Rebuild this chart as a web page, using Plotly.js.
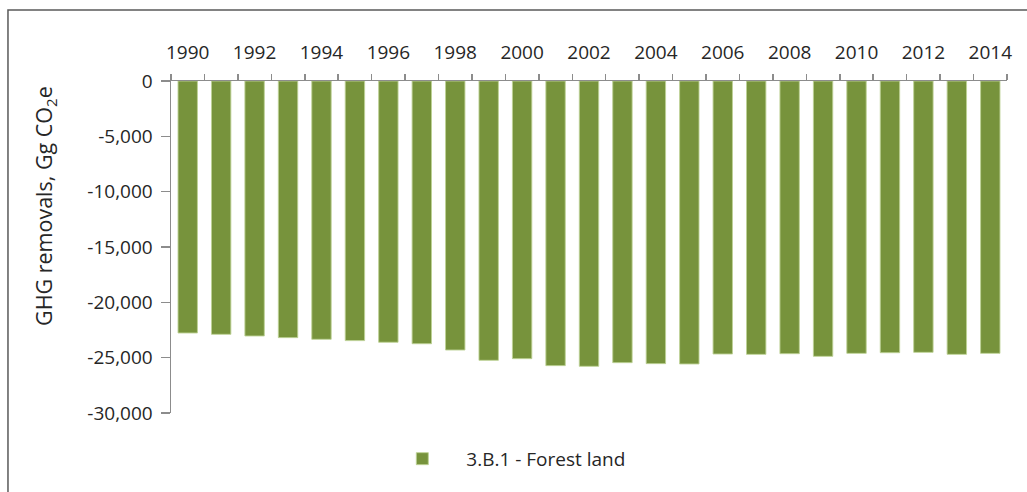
<!DOCTYPE html>
<html>
<head>
<meta charset="utf-8">
<script src="https://cdn.plot.ly/plotly-3.0.1.min.js"></script>
<style>html,body{margin:0;padding:0;background:#fff;}#chart{width:1027px;height:492px;}</style>
</head>
<body>
<div id="chart"></div>
<script>
const years = [1990,1991,1992,1993,1994,1995,1996,1997,1998,1999,2000,2001,2002,2003,2004,2005,2006,2007,2008,2009,2010,2011,2012,2013,2014];
const forestLand = [-22770,-22890,-23040,-23190,-23340,-23460,-23610,-23740,-24310,-25240,-25090,-25720,-25780,-25450,-25540,-25570,-24670,-24700,-24640,-24880,-24610,-24550,-24520,-24700,-24610];
const seriesName = '3.B.1 - Forest land';
const yTicks = [0,-5000,-10000,-15000,-20000,-25000,-30000];
const yTickText = ['0','-5,000','-10,000','-15,000','-20,000','-25,000','-30,000'];
const xTickYears = [1990,1992,1994,1996,1998,2000,2002,2004,2006,2008,2010,2012,2014];

const fontFam = '"Open Sans", "Noto Sans", sans-serif';
const txtCol = '#262626';

const trace = {
  type: 'bar',
  x: years,
  y: forestLand,
  name: seriesName,
  width: 0.58,
  marker: {color: '#77933C', line: {color: 'rgba(190,210,150,0.9)', width: 1}},
  showlegend: true,
  hoverinfo: 'x+y'
};

const layout = {
  width: 1027, height: 492,
  margin: {l: 171, r: 20, t: 81, b: 79, pad: 0},
  paper_bgcolor: '#ffffff', plot_bgcolor: '#ffffff',
  font: {family: fontFam, size: 19, color: txtCol},
  showlegend: true,
  legend: {
    orientation: 'h', x: 0.248, xanchor: 'left', y: -0.138, yanchor: 'middle',
    font: {family: fontFam, size: 19, color: txtCol},
    itemwidth: 78, bgcolor: 'rgba(0,0,0,0)'
  },
  xaxis: {
    side: 'top', range: [1989.5, 2014.5], fixedrange: true,
    tickvals: xTickYears, ticktext: xTickYears.map(String),
    ticks: '', ticklabelstandoff: 13,
    tickfont: {family: fontFam, size: 19, color: txtCol},
    showgrid: false, zeroline: false,
    showline: true, linecolor: '#8c8c8c', linewidth: 1.5,
    minor: {tick0: 1989.5, dtick: 1, ticks: 'outside', ticklen: 6, tickcolor: '#8c8c8c', tickwidth: 1.5, showgrid: false}
  },
  yaxis: {
    range: [-30000, 0], fixedrange: true,
    tickvals: yTicks, ticktext: yTickText,
    ticks: 'outside', ticklen: 9, tickcolor: '#8c8c8c', tickwidth: 1.5,
    ticklabelstandoff: 4,
    tickfont: {family: fontFam, size: 19, color: txtCol},
    showgrid: false, zeroline: false,
    showline: true, linecolor: '#8c8c8c', linewidth: 1.5
  },
  annotations: [{
    xref: 'paper', yref: 'paper', x: -0.1507, y: 0.6236,
    xanchor: 'center', yanchor: 'middle', textangle: -90, showarrow: false,
    text: 'GHG removals, Gg CO<sub>2</sub>e',
    font: {family: fontFam, size: 21.5, color: txtCol}
  }],
  shapes: [{
    type: 'rect', xref: 'paper', yref: 'paper',
    x0: -0.195, x1: 1.08, y0: -0.3, y1: 1.2139,
    line: {color: '#595959', width: 1.5}, fillcolor: 'rgba(0,0,0,0)', layer: 'below'
  }]
};

Plotly.newPlot('chart', [trace], layout, {displayModeBar: false, staticPlot: true});
</script>
</body>
</html>
